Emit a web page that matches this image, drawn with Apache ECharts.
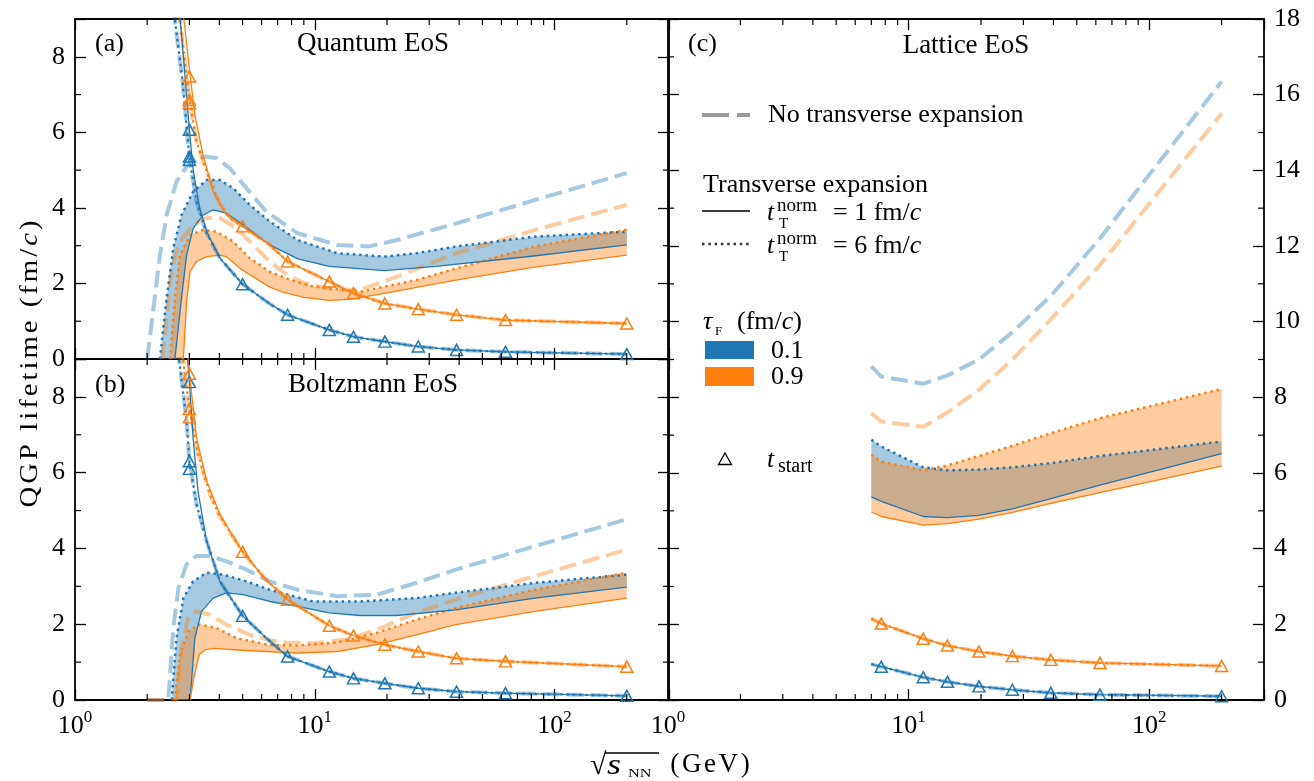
<!DOCTYPE html>
<html><head><meta charset="utf-8">
<script src="https://cdn.jsdelivr.net/npm/echarts@6/dist/echarts.min.js"></script>
<style>html,body{margin:0;padding:0;background:#fff}#c{width:1314px;height:781px}</style>
</head><body><div id="c"></div>
<script>
// ---------------- data: panel (a) Quantum EoS ----------------
const qBlueNoTrans = [[2.0,0],[2.15,1.61],[2.26,2.75],[2.41,3.81],[2.65,4.70],[3.02,5.23],[3.42,5.36],[3.89,5.32],[4.42,5.05],[5.19,4.52],[6.27,3.90],[8.46,3.33],[12.4,3.02],[16.8,2.98],[22,3.15],[39,3.59],[83,4.21],[200,4.92]];
const qOrangeNoTrans = [[2.32,0],[2.41,1.17],[2.53,2.40],[2.74,3.11],[3.11,3.55],[3.54,3.73],[4.02,3.73],[4.72,3.46],[5.53,3.02],[6.49,2.58],[7.7,2.22],[9.1,2.0],[12.4,1.83],[15.5,1.83],[22,2.18],[39,2.80],[83,3.42],[200,4.08]];
const qBlueT6 = [[2.26,0],[2.41,1.61],[2.57,2.93],[2.78,3.81],[3.11,4.43],[3.54,4.74],[4.02,4.74],[4.57,4.52],[5.35,4.08],[6.49,3.64],[8.46,3.15],[12.4,2.80],[19.5,2.71],[26.5,2.80],[39,2.98],[83,3.24],[200,3.37]];
const qBlueT1 = [[2.61,0],[2.78,1.61],[2.92,2.75],[3.11,3.46],[3.42,3.81],[3.77,3.95],[4.28,3.86],[5.03,3.55],[6.49,3.02],[8.5,2.65],[11.5,2.45],[19.5,2.34],[32,2.45],[80,2.72],[200,3.02]];
const qOrangeT6 = [[2.49,0],[2.61,1.61],[2.74,2.75],[3.02,3.28],[3.42,3.42],[3.89,3.37],[4.57,3.11],[5.35,2.67],[6.49,2.31],[8.0,2.08],[9.85,1.92],[15.5,1.78],[26.5,2.09],[39,2.40],[83,2.98],[200,3.42]];
const qOrangeT1 = [[2.83,0],[2.92,1.52],[3.02,2.31],[3.21,2.58],[3.54,2.71],[4.02,2.75],[4.28,2.71],[4.87,2.40],[6.49,1.90],[7.3,1.78],[9.0,1.63],[11.5,1.55],[14,1.58],[19.5,1.74],[38.7,2.09],[80,2.42],[200,2.75]];
const qBlueStart = [[2.72,9.3],[2.85,7.79],[3.0,6.07],[3.11,5.0],[3.31,4.0],[3.54,3.37],[4.02,2.67],[5.0,1.98],[6.49,1.46],[7.7,1.17],[11.5,0.77],[14.5,0.59],[19.6,0.46],[27,0.33],[39,0.24],[62.4,0.19],[200,0.13]];
const qBlueStartAlt = [[2.57,9.3],[2.81,7.35],[3.0,5.32],[3.21,4.17],[3.54,3.33],[4.02,2.67],[5.0,1.98],[6.49,1.46],[7.7,1.17],[11.5,0.77],[14.5,0.59],[19.6,0.46],[27,0.33],[39,0.24],[62.4,0.19],[200,0.13]];
const qBlueStartMarks = [[3.0,6.07],[3.0,5.36],[3.0,5.27],[5.0,1.98],[7.7,1.17],[11.5,0.77],[14.5,0.59],[19.6,0.46],[27,0.33],[39,0.24],[62.4,0.19],[200,0.13]];
const qOrangeStart = [[2.81,9.3],[3.02,7.52],[3.16,6.46],[3.42,5.40],[3.77,4.43],[4.28,3.81],[5.0,3.51],[6.49,3.02],[7.7,2.58],[11.5,2.05],[14.5,1.74],[19.6,1.47],[27,1.32],[39,1.17],[62.4,1.03],[200,0.94]];
const qOrangeStartAlt = [[2.70,9.3],[3.0,6.86],[3.21,5.76],[3.54,4.96],[4.02,4.10],[4.5,3.70],[5.0,3.51],[6.49,3.02],[7.7,2.58],[11.5,2.05],[14.5,1.74],[19.6,1.47],[27,1.32],[39,1.17],[62.4,1.03],[200,0.94]];
const qOrangeStartMarks = [[3.0,7.48],[3.0,6.86],[3.0,6.77],[5.0,3.51],[7.7,2.58],[11.5,2.05],[14.5,1.74],[19.6,1.47],[27,1.32],[39,1.17],[62.4,1.03],[200,0.94]];

// ---------------- data: panel (b) Boltzmann EoS ----------------
const bBlueNoTrans = [[2.0,0],[2.45,0],[2.57,1.90],[2.70,2.96],[2.92,3.58],[3.21,3.80],[3.65,3.80],[4.28,3.66],[5.19,3.44],[6.49,3.13],[8.46,2.91],[12.4,2.74],[18.1,2.78],[26.5,3.09],[38.7,3.44],[82.7,4.06],[200,4.77]];
const bOrangeNoTrans = [[2.0,0],[2.65,0],[2.78,1.37],[2.97,2.16],[3.21,2.34],[3.65,2.25],[4.28,1.99],[5.35,1.72],[6.49,1.58],[7.5,1.52],[9.85,1.50],[13.3,1.59],[18.1,1.85],[26.5,2.30],[38.7,2.65],[82.7,3.27],[200,3.97]];
const bBlueT6 = [[2.53,0],[2.65,1.63],[2.83,2.69],[3.11,3.13],[3.54,3.36],[4.15,3.31],[5.19,3.13],[6.49,2.91],[7.5,2.80],[9.85,2.60],[15.5,2.60],[26.5,2.69],[38.7,2.83],[82.7,3.09],[200,3.31]];
const bBlueT1 = [[3.02,0],[3.16,1.63],[3.37,2.34],[3.77,2.69],[4.28,2.83],[5.03,2.78],[6.49,2.60],[8.46,2.47],[11.5,2.30],[15.5,2.23],[21.9,2.23],[38.7,2.38],[82.7,2.69],[200,2.98]];
const bOrangeT6 = [[2.61,0],[2.74,1.19],[2.97,1.81],[3.31,1.99],[3.89,1.90],[4.72,1.63],[6.49,1.45],[8.46,1.44],[12.4,1.52],[18.1,1.77],[26.5,2.12],[38.7,2.43],[82.7,2.91],[200,3.36]];
const bOrangeT1 = [[3.02,0],[3.11,0.49],[3.21,0.9],[3.3,1.2],[3.5,1.33],[3.8,1.36],[4.79,1.32],[6.24,1.28],[8.46,1.24],[12.4,1.28],[18.1,1.46],[26.5,1.72],[38.7,1.99],[82.7,2.34],[200,2.69]];
const bBlueStart = [[2.92,9.3],[3.0,8.39],[3.11,6.9],[3.26,5.5],[3.54,4.19],[4.02,3.13],[5.0,2.22],[6.49,1.55],[7.7,1.15],[11.5,0.75],[14.5,0.57],[19.6,0.44],[27,0.31],[39,0.22],[62.4,0.18],[200,0.11]];
const bBlueStartAlt = [[2.68,9.3],[2.92,7.37],[3.0,6.3],[3.21,5.17],[3.54,4.19],[4.02,3.13],[5.0,2.22],[6.49,1.55],[7.7,1.15],[11.5,0.75],[14.5,0.57],[19.6,0.44],[27,0.31],[39,0.22],[62.4,0.18],[200,0.11]];
const bBlueStartMarks = [[3.0,8.39],[3.0,6.3],[3.0,6.1],[5.0,2.22],[7.7,1.15],[11.5,0.75],[14.5,0.57],[19.6,0.44],[27,0.31],[39,0.22],[62.4,0.18],[200,0.11]];
const bOrangeStart = [[2.97,9.3],[3.0,8.61],[3.21,6.93],[3.54,5.78],[4.02,4.90],[5.0,3.91],[6.24,3.18],[7.7,2.65],[11.5,1.96],[14.5,1.70],[19.6,1.46],[27,1.28],[39,1.10],[62.4,1.02],[200,0.88]];
const bOrangeStartAlt = [[2.78,9.3],[3.0,7.68],[3.26,6.49],[3.65,5.43],[4.02,4.85],[5.0,3.91],[6.24,3.18],[7.7,2.65],[11.5,1.96],[14.5,1.70],[19.6,1.46],[27,1.28],[39,1.10],[62.4,1.02],[200,0.88]];
const bOrangeStartMarks = [[3.0,8.61],[3.0,7.68],[3.0,7.46],[5.0,3.91],[7.7,2.65],[11.5,1.96],[14.5,1.70],[19.6,1.46],[27,1.28],[39,1.10],[62.4,1.02],[200,0.88]];

// ---------------- data: panel (c) Lattice EoS ----------------
const latE = [7.0,7.7,11.5,14.5,19.6,27,39,62.4,200];
const lBlueNoTrans = [8.82,8.55,8.36,8.58,9.0,9.72,10.68,12.2,16.35];
const lOrangeNoTrans = [7.58,7.36,7.22,7.6,8.2,9.0,10.06,11.5,15.5];
const lBlueT6 = [6.88,6.70,6.15,6.07,6.09,6.15,6.26,6.45,6.83];
const lOrangeT6 = [6.48,6.30,6.07,6.20,6.45,6.72,7.05,7.45,8.22];
const lBlueT1 = [5.37,5.25,4.85,4.82,4.88,5.05,5.32,5.68,6.51];
const lOrangeT1 = [4.97,4.85,4.62,4.66,4.78,4.96,5.20,5.48,6.18];
const lBlueStart = [0.95,0.88,0.60,0.48,0.36,0.27,0.19,0.14,0.10];
const lOrangeStart = [2.15,2.02,1.62,1.44,1.28,1.16,1.06,0.98,0.90];

// ---------------- axis ticks ----------------
const xMinor = [2,3,4,5,6,7,8,9,20,30,40,50,60,70,80,90,200];
const yMinorLeft = [1,3,5,7];
const yMinorLattice = [1,3,5,7,9,11,13,15,17];

// ---------------- styling ----------------
const FONT = '"Liberation Serif", "Times New Roman", serif';
const BLUE = '#1f77b4', ORANGE = '#ff7f0e';
const BLUE_L = 'rgba(31,119,180,0.4)', ORANGE_L = 'rgba(255,127,14,0.4)';
const DASH = [17, 7], DOT = [2.5, 3.8];
const MAJOR = 11, MINOR = 6;

function pairs(xs, ys) { return xs.map((x, i) => [x, ys[i]]); }

function lineS(data, xi, yi, color, width, type) {
  return {type: 'line', xAxisIndex: xi, yAxisIndex: yi, data: data, symbol: 'none', showSymbol: false,
    clip: true, silent: true, z: 3,
    lineStyle: {color: color, width: width, type: type || 'solid', cap: 'butt', join: 'round', opacity: 1}};
}
function bandS(upper, lower, xi, yi, fill) {
  return {type: 'custom', xAxisIndex: xi, yAxisIndex: yi, clip: true, silent: true, z: 2,
    data: [[upper[0][0], 0]],
    renderItem: function (params, api) {
      const pts = upper.map(p => api.coord(p)).concat(lower.slice().reverse().map(p => api.coord(p)));
      return {type: 'polygon', shape: {points: pts}, style: {fill: fill}};
    }};
}
function markS(data, xi, yi, color) {
  return {type: 'scatter', xAxisIndex: xi, yAxisIndex: yi, data: data, symbol: 'triangle', symbolSize: [12, 11],
    silent: true, z: 5, clip: false,
    itemStyle: {color: 'rgba(255,255,255,0)', borderColor: color, borderWidth: 1.5, opacity: 1}};
}
function tickS(xi, yi, yMinor) {
  const data = xMinor.map(v => [v, 0, 0]).concat(yMinor.map(v => [1, v, 1]));
  return {type: 'custom', xAxisIndex: xi, yAxisIndex: yi, clip: false, silent: true, z: 6, data: data,
    renderItem: function (params, api) {
      const cs = params.coordSys;
      const p = api.coord([api.value(0), api.value(1)]);
      const st = {stroke: '#000', lineWidth: 1.2};
      if (api.value(2) === 0) {
        return {type: 'group', children: [
          {type: 'line', shape: {x1: p[0], y1: cs.y + cs.height, x2: p[0], y2: cs.y + cs.height - MINOR}, style: st},
          {type: 'line', shape: {x1: p[0], y1: cs.y, x2: p[0], y2: cs.y + MINOR}, style: st}]};
      }
      return {type: 'group', children: [
        {type: 'line', shape: {x1: cs.x, y1: p[1], x2: cs.x + MINOR, y2: p[1]}, style: st},
        {type: 'line', shape: {x1: cs.x + cs.width, y1: p[1], x2: cs.x + cs.width - MINOR, y2: p[1]}, style: st}]};
    }};
}
function panel(d, xi, yi) {
  return [
    bandS(d.blueT6, d.blueT1, xi, yi, BLUE_L),
    bandS(d.orangeT6, d.orangeT1, xi, yi, ORANGE_L),
    lineS(d.blueNoTrans, xi, yi, BLUE_L, 4, DASH),
    lineS(d.orangeNoTrans, xi, yi, ORANGE_L, 4, DASH),
    lineS(d.blueT6, xi, yi, BLUE, 2.5, DOT),
    lineS(d.orangeT6, xi, yi, ORANGE, 2.5, DOT),
    lineS(d.blueT1, xi, yi, BLUE, 1.3),
    lineS(d.orangeT1, xi, yi, ORANGE, 1.3),
    lineS(d.blueStartAlt, xi, yi, BLUE_L, 4, DASH),
    lineS(d.orangeStartAlt, xi, yi, ORANGE_L, 4, DASH),
    lineS(d.blueStartAlt, xi, yi, BLUE, 2.2, DOT),
    lineS(d.orangeStartAlt, xi, yi, ORANGE, 2.2, DOT),
    lineS(d.blueStart, xi, yi, BLUE, 1.3),
    lineS(d.orangeStart, xi, yi, ORANGE, 1.3),
    markS(d.blueMarks, xi, yi, BLUE),
    markS(d.orangeMarks, xi, yi, ORANGE)
  ];
}

const panelA = {blueNoTrans: qBlueNoTrans, orangeNoTrans: qOrangeNoTrans, blueT6: qBlueT6, blueT1: qBlueT1,
  orangeT6: qOrangeT6, orangeT1: qOrangeT1, blueStart: qBlueStart, blueStartAlt: qBlueStartAlt,
  orangeStart: qOrangeStart, orangeStartAlt: qOrangeStartAlt, blueMarks: qBlueStartMarks, orangeMarks: qOrangeStartMarks};
const panelB = {blueNoTrans: bBlueNoTrans, orangeNoTrans: bOrangeNoTrans, blueT6: bBlueT6, blueT1: bBlueT1,
  orangeT6: bOrangeT6, orangeT1: bOrangeT1, blueStart: bBlueStart, blueStartAlt: bBlueStartAlt,
  orangeStart: bOrangeStart, orangeStartAlt: bOrangeStartAlt, blueMarks: bBlueStartMarks, orangeMarks: bOrangeStartMarks};
const panelC = {blueNoTrans: pairs(latE, lBlueNoTrans), orangeNoTrans: pairs(latE, lOrangeNoTrans),
  blueT6: pairs(latE, lBlueT6), blueT1: pairs(latE, lBlueT1), orangeT6: pairs(latE, lOrangeT6), orangeT1: pairs(latE, lOrangeT1),
  blueStart: pairs(latE, lBlueStart), blueStartAlt: pairs(latE, lBlueStart),
  orangeStart: pairs(latE, lOrangeStart), orangeStartAlt: pairs(latE, lOrangeStart),
  blueMarks: pairs(latE, lBlueStart).slice(1), orangeMarks: pairs(latE, lOrangeStart).slice(1)};

function logFmt(v) {
  const e = Math.log10(v), r = Math.round(e);
  if (Math.abs(e - r) > 1e-6) return '';
  return '{b|10}{s|' + r + '}';
}
const axLine = {show: true, onZero: false, lineStyle: {color: '#000', width: 1.8}};
const axTick = {show: true, inside: true, length: MAJOR, lineStyle: {color: '#000', width: 1.3}};
function xAx(grid, pos, labels) {
  return {type: 'log', logBase: 10, min: 1, max: 300, gridIndex: grid, position: pos,
    axisLine: axLine, axisTick: axTick, splitLine: {show: false}, minorTick: {show: false}, minorSplitLine: {show: false},
    axisLabel: {show: labels, margin: 9, formatter: logFmt, hideOverlap: false,
      rich: {b: {fontFamily: FONT, fontSize: 26, color: '#000', lineHeight: 30, verticalAlign: 'bottom'},
             s: {fontFamily: FONT, fontSize: 17, color: '#000', lineHeight: 30, verticalAlign: 'top'}}}};
}
function yAx(grid, pos, labels, max) {
  return {type: 'value', min: 0, max: max, interval: 2, gridIndex: grid, position: pos,
    axisLine: axLine, axisTick: axTick, splitLine: {show: false},
    axisLabel: {show: labels, margin: 10, fontFamily: FONT, fontSize: 26, color: '#000',
      formatter: v => (v % 2 === 0 ? String(v) : '')}};
}

function txt(x, y, text, size, opt) {
  opt = opt || {};
  const font = (opt.italic ? 'italic ' : '') + 'normal ' + size + 'px ' + FONT;
  const el = {type: 'text', x: x, y: y, silent: true, z: 10,
    style: {text: text, font: font, fill: opt.color || '#000', textAlign: opt.align || 'left', align: opt.align || 'left',
      textVerticalAlign: 'middle', verticalAlign: 'middle'}};
  if (opt.scaleX) el.scaleX = opt.scaleX;
  return el;
}
const RICH = {a: {fontFamily: FONT, fontSize: 26, fontWeight: 'normal', fill: '#000'},
              b: {fontFamily: FONT, fontSize: 26, fontWeight: 'normal', fontStyle: 'italic', fill: '#000'}};
// spaced rich text (letter spacing via token padding)
function spaced(str, style) { return str.split('').map(ch => '{' + style + '|' + ch + '}').join(''); }
const SPACED = function (size, pad) {
  return {a: {fontFamily: FONT, fontSize: size, fontWeight: 'normal', fill: '#000', padding: [0, pad, 0, pad]},
          b: {fontFamily: FONT, fontSize: size, fontWeight: 'normal', fontStyle: 'italic', fill: '#000', padding: [0, pad, 0, pad]}};
};

const graphics = [
  txt(95, 44, '(a)', 26), txt(373, 44, 'Quantum EoS', 27, {align: 'center'}),
  txt(95, 385, '(b)', 26), txt(373, 385, 'Boltzmann EoS', 27, {align: 'center'}),
  txt(688, 44, '(c)', 26), txt(966, 46, 'Lattice EoS', 27, {align: 'center'}),
  // legend
  {type: 'line', silent: true, z: 10, shape: {x1: 702, y1: 115, x2: 750, y2: 115}, style: {stroke: '#9a9a9a', lineWidth: 4, lineDash: [27, 8]}},
  txt(768, 115, 'No transverse expansion', 26),
  txt(703, 185, 'Transverse expansion', 26),
  {type: 'line', silent: true, z: 10, shape: {x1: 702, y1: 211, x2: 750, y2: 211}, style: {stroke: '#000', lineWidth: 1.3}},
  txt(767, 213, 't', 26, {italic: true}), txt(777, 206, 'norm', 19), txt(779, 224, 'T', 15),
  {type: 'text', x: 833, y: 213, silent: true, z: 10, style: {text: '{a|= 1 fm/}{b|c}', textVerticalAlign: 'middle', verticalAlign: 'middle', rich: RICH}},
  {type: 'line', silent: true, z: 10, shape: {x1: 702, y1: 244, x2: 750, y2: 244}, style: {stroke: '#333', lineWidth: 2.5, lineDash: DOT}},
  txt(767, 246, 't', 26, {italic: true}), txt(777, 239, 'norm', 19), txt(779, 257, 'T', 15),
  {type: 'text', x: 833, y: 246, silent: true, z: 10, style: {text: '{a|= 6 fm/}{b|c}', textVerticalAlign: 'middle', verticalAlign: 'middle', rich: RICH}},
  txt(703, 322, 'τ', 26, {italic: true}), txt(715, 332, 'F', 13),
  {type: 'text', x: 737, y: 322, silent: true, z: 10, style: {text: '{a|(fm/}{b|c}{a|)}', textVerticalAlign: 'middle', verticalAlign: 'middle', rich: RICH}},
  {type: 'rect', silent: true, z: 10, shape: {x: 705, y: 341, width: 49, height: 18}, style: {fill: BLUE}},
  {type: 'rect', silent: true, z: 10, shape: {x: 705, y: 367, width: 49, height: 19}, style: {fill: ORANGE}},
  txt(771, 351, '0.1', 26), txt(771, 377, '0.9', 26),
  {type: 'polygon', silent: true, z: 10, shape: {points: [[725, 453], [718.5, 464.5], [731.5, 464.5]]}, style: {fill: 'none', stroke: '#000', lineWidth: 1.3}},
  txt(767, 460, 't', 26, {italic: true}), txt(778, 467, 'start', 20),
  // y-axis title
  {type: 'text', x: 30, y: 364, rotation: Math.PI / 2, scaleX: 1.15, silent: true, z: 10,
    style: {text: spaced('QGP lifetime (fm/', 'a') + '{b|c}{a|)}', textAlign: 'center', align: 'center',
      textVerticalAlign: 'middle', verticalAlign: 'middle', rich: SPACED(25, 1.3)}},
  // x-axis title
  txt(590, 766, '√', 30),
  {type: 'line', silent: true, z: 10, shape: {x1: 605, y1: 753, x2: 659, y2: 753}, style: {stroke: '#000', lineWidth: 1.4}},
  txt(607, 766, 's', 30, {italic: true, scaleX: 1.2}), txt(628, 774, 'NN', 13, {scaleX: 1.25}),
  {type: 'text', x: 669, y: 765, silent: true, z: 10,
    style: {text: spaced('(GeV)', 'a'), textVerticalAlign: 'middle', verticalAlign: 'middle', rich: SPACED(27, 1.3)}}
];

const chart = echarts.init(document.getElementById('c'), null, {renderer: 'canvas'});
chart.setOption({
  animation: false,
  backgroundColor: '#fff',
  grid: [
    {left: 75, top: 19, width: 594, height: 340, containLabel: false},
    {left: 75, top: 359, width: 594, height: 341, containLabel: false},
    {left: 668, top: 19, width: 596, height: 681, containLabel: false}
  ],
  xAxis: [xAx(0, 'bottom', false), xAx(0, 'top', false), xAx(1, 'bottom', true), xAx(1, 'top', false), xAx(2, 'bottom', true), xAx(2, 'top', false)],
  yAxis: [yAx(0, 'left', true, 9), yAx(0, 'right', false, 9), yAx(1, 'left', true, 9), yAx(1, 'right', false, 9), yAx(2, 'left', false, 18), yAx(2, 'right', true, 18)],
  series: [].concat(panel(panelA, 0, 0), panel(panelB, 2, 2), panel(panelC, 4, 5),
    [tickS(0, 0, yMinorLeft), tickS(2, 2, yMinorLeft), tickS(4, 5, yMinorLattice)]),
  graphic: {elements: graphics}
});
</script></body></html>
